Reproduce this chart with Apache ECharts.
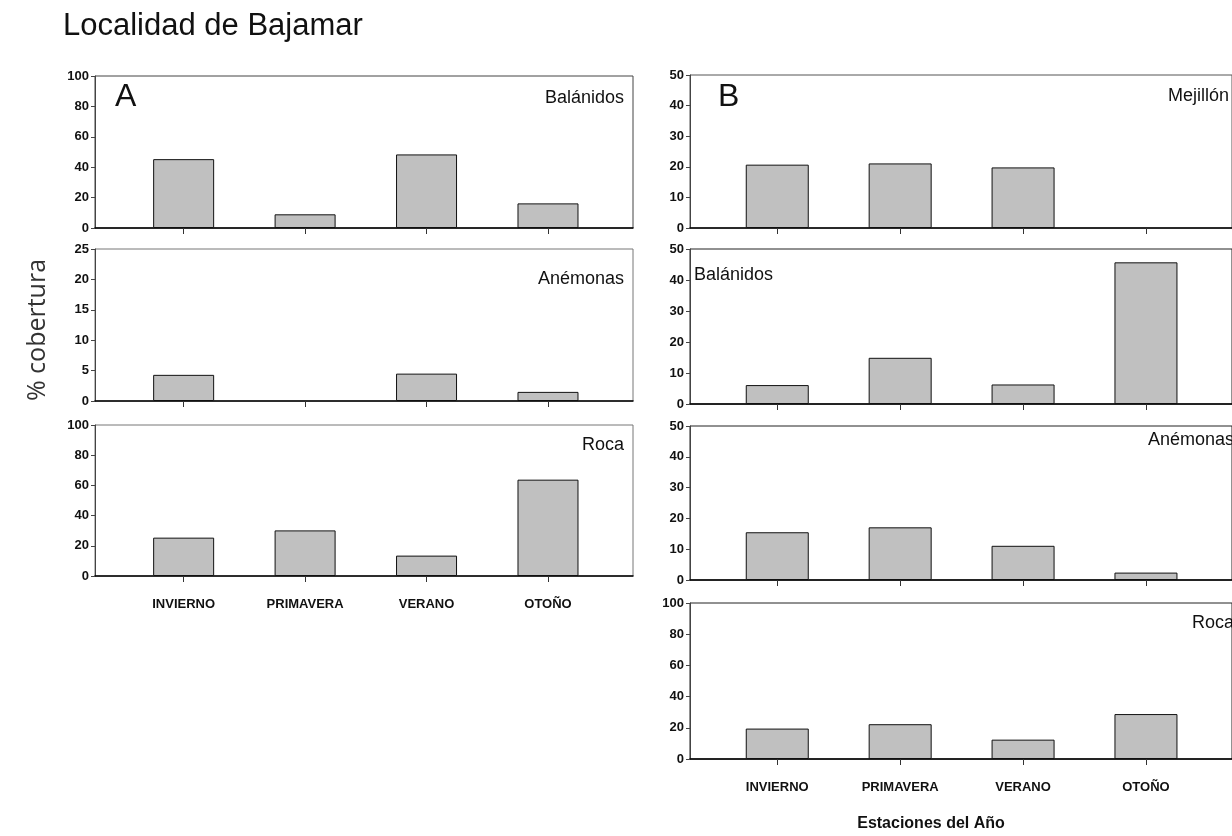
<!DOCTYPE html>
<html>
<head>
<meta charset="utf-8">
<title>Localidad de Bajamar</title>
<script src="https://cdn.jsdelivr.net/npm/echarts@6/dist/echarts.min.js"></script>
<style>
  html, body { margin: 0; padding: 0; background: #fff; }
  #chart { width: 1232px; height: 836px; }
</style>
</head>
<body>
<div id="chart"></div>
<script>
// estaciones del año (eje x) y su posicion en el eje
const estaciones = ['INVIERNO', 'PRIMAVERA', 'VERANO', 'OTOÑO'];
const posiciones = [1, 2, 3, 4];

// A: % cobertura
const aBalanidos = [45.3, 9.0, 48.4, 16.2];
const aAnemonas = [4.3, 0, 4.5, 1.5];
const aRoca = [25.4, 30.2, 13.5, 63.8];

// B: % cobertura
const bMejillon = [20.7, 21.1, 19.8, 0];
const bBalanidos = [6.1, 14.9, 6.3, 45.7];
const bAnemonas = [15.5, 17.1, 11.1, 2.4];
const bRoca = [19.5, 22.3, 12.4, 28.8];

// un panel = una rejilla con su eje y
const paneles = [
  {datos: aBalanidos, max: 100, paso: 20, left: 95, top: 76, width: 538, height: 152, xMin: 0.27, xMax: 4.70, ancho: 61, etiquetas: false, borde: '#444'},
  {datos: aAnemonas, max: 25, paso: 5, left: 95, top: 249, width: 538, height: 152, xMin: 0.27, xMax: 4.70, ancho: 61, etiquetas: false, borde: '#777'},
  {datos: aRoca, max: 100, paso: 20, left: 95, top: 425, width: 538, height: 151, xMin: 0.27, xMax: 4.70, ancho: 61, etiquetas: true, borde: '#777'},
  {datos: bMejillon, max: 50, paso: 10, left: 690, top: 75, width: 552, height: 153, xMin: 0.29, xMax: 4.70, ancho: 63, etiquetas: false, borde: '#555'},
  {datos: bBalanidos, max: 50, paso: 10, left: 690, top: 249, width: 552, height: 155, xMin: 0.29, xMax: 4.70, ancho: 63, etiquetas: false, borde: '#222'},
  {datos: bAnemonas, max: 50, paso: 10, left: 690, top: 426, width: 552, height: 154, xMin: 0.29, xMax: 4.70, ancho: 63, etiquetas: false, borde: '#222'},
  {datos: bRoca, max: 100, paso: 20, left: 690, top: 603, width: 552, height: 156, xMin: 0.29, xMax: 4.70, ancho: 63, etiquetas: true, borde: '#222'}
];

const fuente = '"Liberation Sans", Arial, sans-serif';

var chartDom = document.getElementById('chart');
var myChart = echarts.init(chartDom);

var grids = [], xAxes = [], yAxes = [], series = [];
paneles.forEach(function (p, i) {
  grids.push({
    left: p.left, top: p.top, width: p.width, height: p.height,
    show: true, borderColor: p.borde, borderWidth: 1, backgroundColor: 'transparent'
  });
  xAxes.push({
    type: 'value', gridIndex: i, min: p.xMin, max: p.xMax,
    splitLine: {show: false},
    axisLine: {show: true, onZero: false, lineStyle: {color: '#000', width: 1.5}},
    axisTick: {show: true, customValues: posiciones, length: 6, lineStyle: {color: '#333'}},
    axisLabel: {
      show: p.etiquetas, customValues: posiciones, margin: 22,
      fontFamily: fuente, fontWeight: 'bold', fontSize: 13, color: '#111',
      formatter: function (v) { return estaciones[Math.round(v) - 1] || ''; }
    }
  });
  yAxes.push({
    type: 'value', gridIndex: i, min: 0, max: p.max, interval: p.paso,
    splitLine: {show: false},
    axisLine: {show: true, lineStyle: {color: '#444', width: 1}},
    axisTick: {show: true, length: 4, lineStyle: {color: '#444'}},
    axisLabel: {margin: 6, fontFamily: fuente, fontWeight: 'bold', fontSize: 13, color: '#111'}
  });
  series.push({
    type: 'bar', xAxisIndex: i, yAxisIndex: i, barWidth: p.ancho, silent: true,
    itemStyle: {color: '#c0c0c0', borderColor: '#111', borderWidth: 1},
    // sin barra cuando el valor es 0
    data: p.datos.map(function (v, k) {
      return v === 0 ? {value: [posiciones[k], v], itemStyle: {borderWidth: 0, opacity: 0}} : [posiciones[k], v];
    })
  });
});

// textos del dibujo
function texto(t, x, y, size, align) {
  return {
    type: 'text', x: x, y: y, silent: true, z: 100,
    style: {text: t, font: size + 'px ' + fuente, fill: '#111', textAlign: align, textVerticalAlign: 'middle'}
  };
}

var option = {
  animation: false,
  grid: grids,
  xAxis: xAxes,
  yAxis: yAxes,
  series: series,
  graphic: [
    texto('Localidad de Bajamar', 63, 26, 31, 'left'),
    {
      type: 'text', x: 38, y: 330, rotation: Math.PI / 2, silent: true,
      style: {text: '% cobertura', font: '25px "Open Sans", sans-serif', fill: '#333', textAlign: 'center', textVerticalAlign: 'middle'}
    },
    texto('A', 115, 97, 32, 'left'),
    texto('Balánidos', 624, 98, 18, 'right'),
    texto('Anémonas', 624, 279, 18, 'right'),
    texto('Roca', 624, 445, 18, 'right'),
    texto('B', 718, 97, 32, 'left'),
    texto('Mejillón', 1229, 96, 18, 'right'),
    texto('Balánidos', 694, 275, 18, 'left'),
    texto('Anémonas', 1234, 440, 18, 'right'),
    texto('Roca', 1234, 623, 18, 'right'),
    {
      type: 'text', x: 931, y: 824, silent: true,
      style: {text: 'Estaciones del Año', font: 'bold 16px ' + fuente, fill: '#111', textAlign: 'center', textVerticalAlign: 'middle'}
    }
  ]
};

option && myChart.setOption(option);
</script>
</body>
</html>
